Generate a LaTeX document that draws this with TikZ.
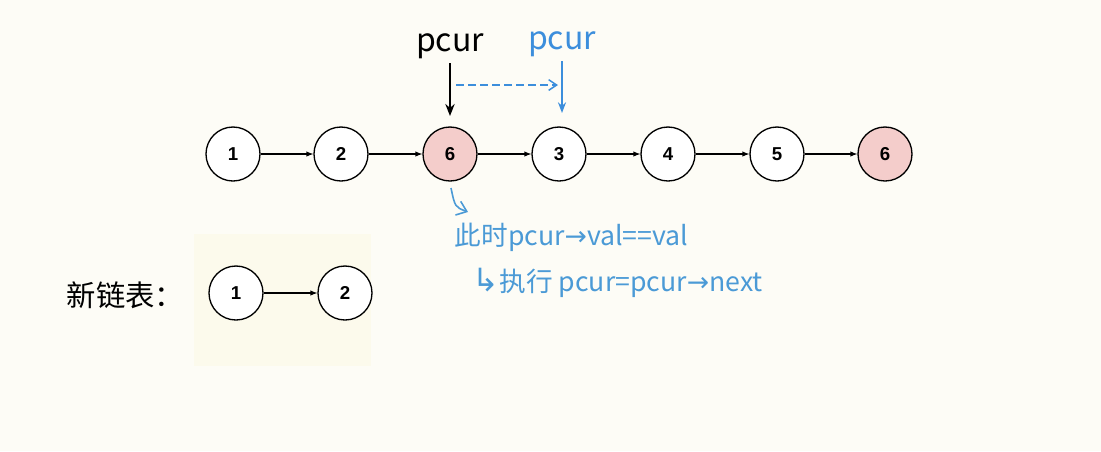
\documentclass[tikz,border=0pt]{standalone}
\usepackage{fontspec}
\usepackage{xcolor}
\usetikzlibrary{arrows.meta}
\setsansfont{Liberation Sans}
\newfontfamily\cjk{Noto Sans CJK SC}
\newfontfamily\symb{DejaVu Sans}
\definecolor{paper}{HTML}{FDFCF6}
\definecolor{boxbg}{HTML}{FCFAEC}
\definecolor{hotnode}{HTML}{F4CDCB}
\definecolor{penblue}{HTML}{3C8EDC}
\definecolor{inkblue}{HTML}{4B9AD6}

\begin{document}
\begin{tikzpicture}[x=0.75pt, y=-0.75pt,
        lnode/.style={circle, draw, line width=1pt, fill=white, minimum size=40.5pt, inner sep=0pt, font=\sffamily\bfseries\fontsize{14}{14}\selectfont},
        link/.style={-latex, line width=0.8pt},
        note/.style={font=\cjk\fontsize{20}{20}\selectfont, anchor=west}]
        \useasboundingbox[fill=paper] (0,0) rectangle (1101,451);
        \fill[boxbg] (194,234) rectangle (371,366);

        % the list
        \node[lnode] (A) at (233, 154) {1};
        \node[lnode] (B) at (341, 154) {2};
        \node[lnode, fill=hotnode] (C) at (450, 154) {6};
        \node[lnode] (D) at (559, 154) {3};
        \node[lnode] (E) at (668, 154) {4};
        \node[lnode] (F) at (777, 154) {5};
        \node[lnode, fill=hotnode] (G) at (885, 154) {6};

        \draw[link] (A) -- (B);
        \draw[link] (B) -- (C);
        \draw[link] (C) -- (D);
        \draw[link] (D) -- (E);
        \draw[link] (E) -- (F);
        \draw[link] (F) -- (G);

        % pointers
        \node[font=\cjk\fontsize{24}{24}\selectfont] (P1) at (450, 46) {pcur};
        \node[font=\cjk\fontsize{24}{24}\selectfont, text=penblue] (P2) at (562, 44) {pcur};
        \coordinate (T1) at (450, 116);
        \coordinate (T2) at (562, 113);
        \draw[-{Stealth[length=9pt, width=7pt]}, line width=1.6pt] (P1.south) -- (T1);
        \draw[-{Stealth[length=8pt, width=6pt]}, line width=1.3pt, penblue] (P2.south) -- (T2);
        \coordinate (S1) at (456, 85);
        \coordinate (S2) at (558, 85);
        \draw[-{Straight Barb[length=6pt, width=8pt]}, dash pattern=on 6pt off 3pt, line width=1.1pt, penblue] (S1) -- (S2);

        % notes
        \coordinate (H1) at (451, 188);
        \coordinate (H2) at (468, 212);
        \draw[-{Straight Barb[length=7pt, width=11pt]}, line width=1.2pt, inkblue] (H1) .. controls (455, 207) .. (H2);
        \node[note, text=inkblue] (N1) at (450, 237) {此时pcur{\symb →}val==val};
        \node[note, text=inkblue] (N2) at (468, 283) {{\symb\fontsize{24}{24}\selectfont ↳}执行 pcur=pcur{\symb →}next};

        % new list
        \node[font=\cjk\fontsize{22}{22}\selectfont, anchor=west] (L) at (62, 295) {新链表：};
        \node[lnode] (X) at (236, 293) {1};
        \node[lnode] (Y) at (345, 293) {2};
        \draw[link] (X) -- (Y);
    \end{tikzpicture}
\end{document}
